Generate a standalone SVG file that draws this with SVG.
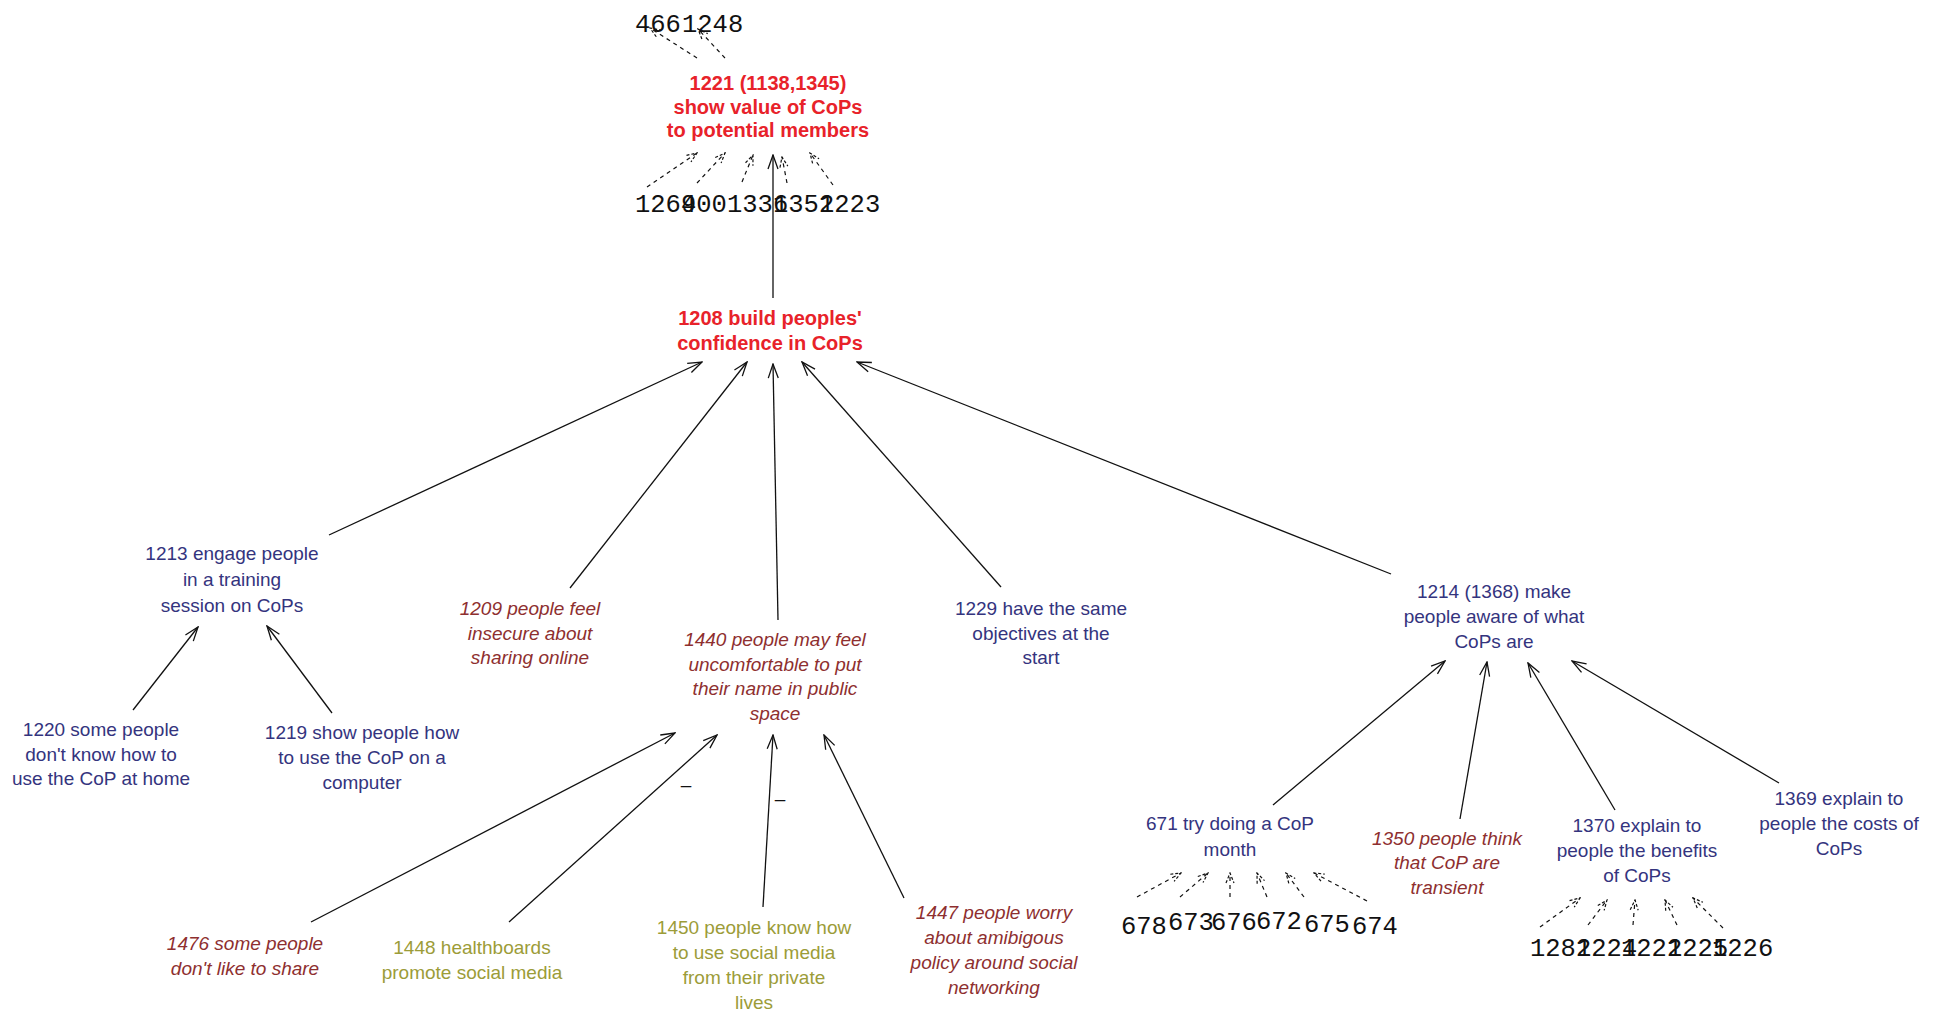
<svg xmlns="http://www.w3.org/2000/svg" width="1948" height="1014" viewBox="0 0 1948 1014">
  <defs>
    <style>
      .lbl { font-family: "Liberation Sans", Arial, sans-serif; font-size: 19px; text-anchor: middle; }
      .pos { fill: #34347e; }
      .neg { fill: #8e2f2f; font-style: italic; }
      .ext { fill: #9c9c38; }
      .key { fill: #e8222a; font-weight: bold; font-size: 20px; }
      .num { font-family: "Liberation Mono", "DejaVu Sans Mono", monospace; font-size: 25.5px; fill: #111; }
      .sign { font-family: "Liberation Sans", Arial, sans-serif; font-size: 19px; fill: #111; text-anchor: middle; }
      .link { stroke: #111; stroke-width: 1.3; fill: none; marker-end: url(#head); }
      .dash { stroke: #111; stroke-width: 1.2; fill: none; stroke-dasharray: 4 4; marker-end: url(#dhead); }
    </style>
    <marker id="head" viewBox="0 0 16 12" refX="15" refY="6" markerWidth="16" markerHeight="12" markerUnits="userSpaceOnUse" orient="auto">
      <path d="M1,1 L15,6 L1,11" fill="none" stroke="#111" stroke-width="1.3"/>
    </marker>
    <marker id="dhead" viewBox="0 0 12 10" refX="11" refY="5" markerWidth="12" markerHeight="10" markerUnits="userSpaceOnUse" orient="auto">
      <path d="M1,1 L11,5 L1,9" fill="none" stroke="#111" stroke-width="1.2" stroke-dasharray="3 2"/>
    </marker>
  </defs>

  <rect width="1948" height="1014" fill="#ffffff"/>

  <!-- connectors -->
  <g id="connectors">
    <line class="link" x1="773" y1="298" x2="773" y2="155"/>
    <line class="link" x1="329" y1="535" x2="702" y2="362"/>
    <line class="link" x1="570" y1="588" x2="747" y2="362"/>
    <line class="link" x1="778" y1="620" x2="773" y2="364"/>
    <line class="link" x1="1001" y1="587" x2="802" y2="362"/>
    <line class="link" x1="1391" y1="574" x2="857" y2="362"/>
    <line class="link" x1="133" y1="710" x2="198" y2="627"/>
    <line class="link" x1="332" y1="713" x2="267" y2="626"/>
    <line class="link" x1="311" y1="922" x2="675" y2="733"/>
    <line class="link" x1="509" y1="922" x2="717" y2="735"/>
    <line class="link" x1="763" y1="907" x2="773" y2="735"/>
    <line class="link" x1="904" y1="898" x2="824" y2="735"/>
    <line class="link" x1="1273" y1="805" x2="1445" y2="661"/>
    <line class="link" x1="1460" y1="819" x2="1487" y2="662"/>
    <line class="link" x1="1615" y1="810" x2="1528" y2="663"/>
    <line class="link" x1="1779" y1="783" x2="1572" y2="661"/>

    <line class="dash" x1="697" y1="58" x2="650" y2="28"/>
    <line class="dash" x1="725" y1="58" x2="698" y2="29"/>
    <line class="dash" x1="647" y1="187" x2="697" y2="153"/>
    <line class="dash" x1="697" y1="183" x2="725" y2="153"/>
    <line class="dash" x1="742" y1="182" x2="753" y2="155"/>
    <line class="dash" x1="787" y1="183" x2="782" y2="157"/>
    <line class="dash" x1="833" y1="185" x2="810" y2="153"/>

    <line class="dash" x1="1137" y1="897" x2="1181" y2="873"/>
    <line class="dash" x1="1180" y1="897" x2="1208" y2="873"/>
    <line class="dash" x1="1230" y1="897" x2="1230" y2="873"/>
    <line class="dash" x1="1267" y1="897" x2="1257" y2="873"/>
    <line class="dash" x1="1304" y1="897" x2="1286" y2="873"/>
    <line class="dash" x1="1367" y1="901" x2="1314" y2="873"/>

    <line class="dash" x1="1540" y1="927" x2="1580" y2="898"/>
    <line class="dash" x1="1588" y1="925" x2="1607" y2="900"/>
    <line class="dash" x1="1633" y1="925" x2="1635" y2="900"/>
    <line class="dash" x1="1677" y1="925" x2="1665" y2="900"/>
    <line class="dash" x1="1723" y1="928" x2="1693" y2="898"/>

    <text class="sign" x="686" y="791">–</text>
    <text class="sign" x="780" y="805">–</text>
  </g>

  <!-- nodes -->
  <g id="n1221"><text class="lbl key"><tspan x="768" y="90">1221 (1138,1345)</tspan><tspan x="768" y="113.5">show value of CoPs</tspan><tspan x="768" y="137">to potential members</tspan></text></g>
  <g id="n1208"><text class="lbl key"><tspan x="770" y="325">1208 build peoples'</tspan><tspan x="770" y="350">confidence in CoPs</tspan></text></g>
  <g id="n1213"><text class="lbl pos"><tspan x="232" y="560">1213 engage people</tspan><tspan x="232" y="586">in a training</tspan><tspan x="232" y="612">session on CoPs</tspan></text></g>
  <g id="n1220"><text class="lbl pos"><tspan x="101" y="736">1220 some people</tspan><tspan x="101" y="761">don't know how to</tspan><tspan x="101" y="785">use the CoP at home</tspan></text></g>
  <g id="n1219"><text class="lbl pos"><tspan x="362" y="739">1219 show people how</tspan><tspan x="362" y="764">to use the CoP on a</tspan><tspan x="362" y="789">computer</tspan></text></g>
  <g id="n1209"><text class="lbl neg"><tspan x="530" y="615">1209 people feel</tspan><tspan x="530" y="640">insecure about</tspan><tspan x="530" y="664">sharing online</tspan></text></g>
  <g id="n1440"><text class="lbl neg"><tspan x="775" y="646">1440 people may feel</tspan><tspan x="775" y="671">uncomfortable to put</tspan><tspan x="775" y="695">their name in public</tspan><tspan x="775" y="720">space</tspan></text></g>
  <g id="n1229"><text class="lbl pos"><tspan x="1041" y="615">1229 have the same</tspan><tspan x="1041" y="640">objectives at the</tspan><tspan x="1041" y="664">start</tspan></text></g>
  <g id="n1214"><text class="lbl pos"><tspan x="1494" y="598">1214 (1368) make</tspan><tspan x="1494" y="623">people aware of what</tspan><tspan x="1494" y="648">CoPs are</tspan></text></g>
  <g id="n1476"><text class="lbl neg"><tspan x="245" y="950">1476 some people</tspan><tspan x="245" y="975">don't like to share</tspan></text></g>
  <g id="n1448"><text class="lbl ext"><tspan x="472" y="954">1448 healthboards</tspan><tspan x="472" y="979">promote social media</tspan></text></g>
  <g id="n1450"><text class="lbl ext"><tspan x="754" y="934">1450 people know how</tspan><tspan x="754" y="959">to use social media</tspan><tspan x="754" y="984">from their private</tspan><tspan x="754" y="1009">lives</tspan></text></g>
  <g id="n1447"><text class="lbl neg"><tspan x="994" y="919">1447 people worry</tspan><tspan x="994" y="944">about amibigous</tspan><tspan x="994" y="969">policy around social</tspan><tspan x="994" y="994">networking</tspan></text></g>
  <g id="n671"><text class="lbl pos"><tspan x="1230" y="830">671 try doing a CoP</tspan><tspan x="1230" y="856">month</tspan></text></g>
  <g id="n1350"><text class="lbl neg"><tspan x="1447" y="845">1350 people think</tspan><tspan x="1447" y="869">that CoP are</tspan><tspan x="1447" y="894">transient</tspan></text></g>
  <g id="n1370"><text class="lbl pos"><tspan x="1637" y="832">1370 explain to</tspan><tspan x="1637" y="857">people the benefits</tspan><tspan x="1637" y="882">of CoPs</tspan></text></g>
  <g id="n1369"><text class="lbl pos"><tspan x="1839" y="805">1369 explain to</tspan><tspan x="1839" y="830">people the costs of</tspan><tspan x="1839" y="855">CoPs</tspan></text></g>

  <!-- collapsed neighbour ids, printed at their own positions (they run into each other) -->
  <g id="n466"><text class="num" x="635" y="32">466</text></g>
  <g id="n1248"><text class="num" x="682" y="32">1248</text></g>
  <g id="n1264"><text class="num" x="635" y="212">1264</text></g>
  <g id="n900"><text class="num" x="681" y="212">900</text></g>
  <g id="n1336"><text class="num" x="727" y="212">1336</text></g>
  <g id="n1352"><text class="num" x="773" y="212">1352</text></g>
  <g id="n1223"><text class="num" x="819" y="212">1223</text></g>

  <g id="n678"><text class="num" x="1121" y="934">678</text></g>
  <g id="n673"><text class="num" x="1168" y="930">673</text></g>
  <g id="n676"><text class="num" x="1211" y="930">676</text></g>
  <g id="n672"><text class="num" x="1256" y="929">672</text></g>
  <g id="n675"><text class="num" x="1304" y="932">675</text></g>
  <g id="n674"><text class="num" x="1352" y="934">674</text></g>

  <g id="n1282"><text class="num" x="1530" y="956">1282</text></g>
  <g id="n1224"><text class="num" x="1576" y="956">1224</text></g>
  <g id="n1222"><text class="num" x="1621" y="956">1222</text></g>
  <g id="n1225"><text class="num" x="1667" y="956">1225</text></g>
  <g id="n1226"><text class="num" x="1712" y="956">1226</text></g>
</svg>
